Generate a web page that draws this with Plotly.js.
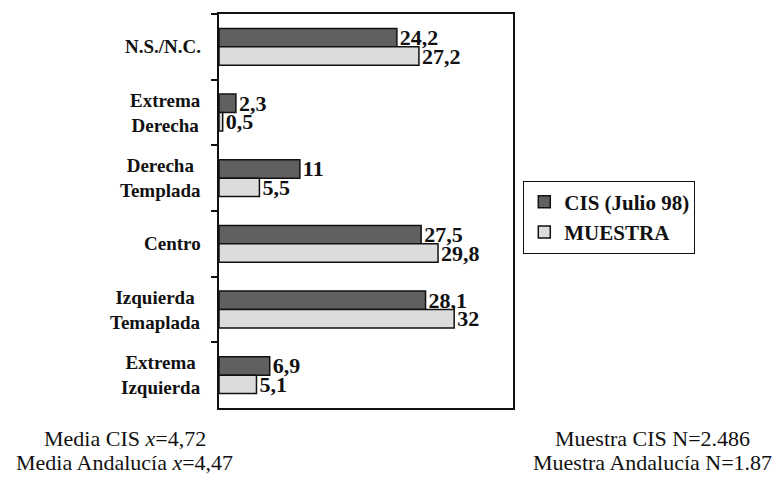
<!DOCTYPE html>
<html>
<head>
<meta charset="utf-8">
<script src="https://cdn.plot.ly/plotly-3.0.1.min.js"></script>
<style>html,body{margin:0;padding:0;background:#fff;}#chart{width:782px;height:481px;}</style>
</head>
<body>
<div id="chart"></div>
<script>
const categories = ["N.S./N.C.", "Extrema<br>Derecha", "Derecha<br>Templada", "Centro", "Izquierda<br>Temaplada", "Extrema<br>Izquierda"];
const cisValues = [24.2, 2.3, 11, 27.5, 28.1, 6.9];
const muestraValues = [27.2, 0.5, 5.5, 29.8, 32, 5.1];
const seriesNames = ["CIS (Julio 98)", "MUESTRA"];
const footLeft = ["Media CIS <i>x</i>=4,72", "Media Andalucía <i>x</i>=4,47"];
const footRight = ["Muestra CIS N=2.486", "Muestra Andalucía N=1.87"];

const serif = "Liberation Serif";
const fmt = v => String(v).replace('.', ',');

const traces = [
  {type:'bar', orientation:'h', name:seriesNames[0], y:categories, x:cisValues,
   text:cisValues.map(v => '<b>'+fmt(v)+'</b>'), textposition:'outside', cliponaxis:false,
   constraintext:'none',
   textfont:{family:serif, size:22, color:'#111'},
   marker:{color:'#606060', line:{color:'#111', width:1.5}}},
  {type:'bar', orientation:'h', name:seriesNames[1], y:categories, x:muestraValues,
   text:muestraValues.map(v => '<b>'+fmt(v)+'</b>'), textposition:'outside', cliponaxis:false,
   constraintext:'none',
   textfont:{family:serif, size:22, color:'#111'},
   marker:{color:'#dcdcdc', line:{color:'#111', width:1.5}}}
];

const annotations = [];
categories.forEach(c => annotations.push({
  xref:'paper', yref:'y', x:-0.054, y:c, xanchor:'right', yanchor:'middle', align:'center',
  text:'<b>'+c+'</b>', showarrow:false, font:{family:serif, size:19, color:'#111'}
}));
footLeft.forEach((t,i) => annotations.push({
  xref:'paper', yref:'paper', x:-0.32, y:-0.04 - i*0.062, xanchor:'center', yanchor:'top',
  text:t, showarrow:false, font:{family:serif, size:22, color:'#111'}
}));
footRight.forEach((t,i) => annotations.push({
  xref:'paper', yref:'paper', x:1.475, y:-0.04 - i*0.062, xanchor:'center', yanchor:'top',
  text:t, showarrow:false, font:{family:serif, size:22, color:'#111'}
}));

const layout = {
  width:782, height:481,
  margin:{l:219, r:269, t:14, b:73},
  paper_bgcolor:'#fff', plot_bgcolor:'#fff',
  barmode:'group', bargap:0.44, bargroupgap:0,
  showlegend:true,
  legend:{x:1.035, y:0.577, xanchor:'left', yanchor:'top', traceorder:'normal',
    bordercolor:'#111', borderwidth:1, bgcolor:'#fff',
    font:{family:serif, size:21, color:'#111', weight:'bold'}, itemwidth:30, tracegroupgap:0},
  xaxis:{range:[0,40], showgrid:false, zeroline:false, showticklabels:false, ticks:'',
    showline:true, mirror:true, linecolor:'#111', linewidth:2},
  yaxis:{autorange:'reversed', type:'category', showgrid:false, zeroline:false,
    showticklabels:false, ticks:'outside', tickson:'boundaries', ticklen:6, tickwidth:2, tickcolor:'#111',
    showline:true, mirror:true, linecolor:'#111', linewidth:2},
  annotations:annotations
};

Plotly.newPlot('chart', traces, layout, {displayModeBar:false, staticPlot:true});
</script>
</body>
</html>
